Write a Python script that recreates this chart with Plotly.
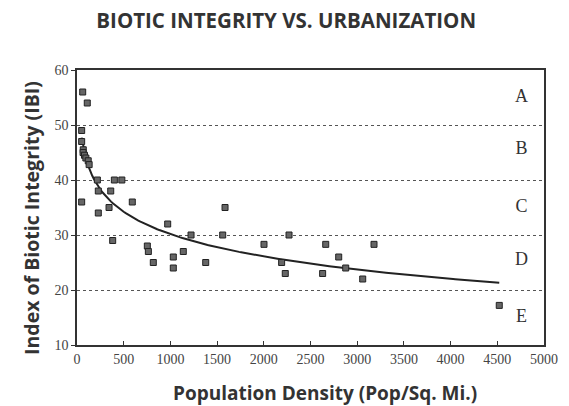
import numpy as np
import plotly.graph_objects as go

# Data
density = [61, 110, 50, 50, 67, 65, 80, 95, 120, 130, 218, 400, 480, 228, 361, 50, 592, 228, 343,
           382, 753, 764, 817, 971, 1031, 1031, 1138, 1221, 1378, 1560, 1585, 2002, 2270, 2191,
           2230, 2663, 2802, 2630, 2877, 3059, 3180, 4521]
ibi = [56, 54, 49, 47, 45.5, 45, 44.5, 44, 43.5, 42.8, 40, 40, 40, 38, 38, 36, 36, 34, 35,
       29, 28, 27, 25, 32, 26, 24, 27, 30, 25, 30, 35, 28.3, 30, 25,
       23, 28.3, 26, 23, 24, 22, 28.3, 17.2]

class_labels = ["A", "B", "C", "D", "E"]
class_label_y = [55, 45.5, 35, 25.3, 15]
class_label_x = 4760

x_ticks = list(range(0, 5001, 500))
y_ticks = list(range(10, 61, 10))

# Logarithmic trendline fitted to the data
xd = np.array(density, dtype=float)
yd = np.array(ibi, dtype=float)
b, a = np.polyfit(np.log(xd), yd, 1)
xs = np.linspace(xd.min(), xd.max(), 200)
ys = a + b * np.log(xs)

fig = go.Figure()
fig.add_trace(go.Scatter(x=xs, y=ys, mode="lines",
                         line=dict(color="#222222", width=2), hoverinfo="skip"))
fig.add_trace(go.Scatter(x=density, y=ibi, mode="markers",
                         marker=dict(symbol="square", size=6, color="#666666",
                                     line=dict(color="#222222", width=1))))
fig.add_trace(go.Scatter(x=[class_label_x] * len(class_labels), y=class_label_y,
                         mode="text", text=class_labels,
                         textfont=dict(family="Liberation Serif", size=18, color="#333333")))

fig.update_layout(
    width=569, height=406,
    margin=dict(l=77, r=25, t=70, b=61),
    paper_bgcolor="white", plot_bgcolor="white",
    showlegend=False,
    title=dict(text="<b>BIOTIC INTEGRITY VS. URBANIZATION</b>", x=0.503, xanchor="center",
               y=0.948, yanchor="middle",
               font=dict(family="Open Sans", size=20.5, color="#333333")),
    annotations=[
        dict(text="<b>Population Density (Pop/Sq. Mi.)</b>", xref="paper", yref="paper",
             x=0.531, y=-0.1745, xanchor="center", yanchor="middle", showarrow=False,
             font=dict(family="Open Sans", size=19, color="#333333")),
        dict(text="<b>Index of Biotic Integrity (IBI)</b>", xref="paper", yref="paper",
             x=-0.0964, y=0.462, xanchor="center", yanchor="middle", showarrow=False,
             textangle=-90,
             font=dict(family="Open Sans", size=19.5, color="#333333")),
    ],
)
fig.update_xaxes(range=[0, 5000], tickvals=x_ticks, showgrid=False, zeroline=False,
                 showline=True, linecolor="#333333", linewidth=1.5, mirror=True,
                 ticks="inside", ticklen=4, tickcolor="#333333",
                 tickfont=dict(family="Liberation Serif", size=14, color="#444444"))
fig.update_yaxes(range=[10, 60], tickvals=y_ticks, showgrid=True, gridcolor="#555555",
                 griddash="dot", gridwidth=1.3, zeroline=False,
                 showline=True, linecolor="#333333", linewidth=1.5, mirror=True,
                 ticks="outside", ticklen=4, tickcolor="#333333",
                 tickfont=dict(family="Liberation Serif", size=14, color="#444444"))

fig.write_html("out.html", config={"displayModeBar": False},
               post_script="document.body.style.margin='0';")
